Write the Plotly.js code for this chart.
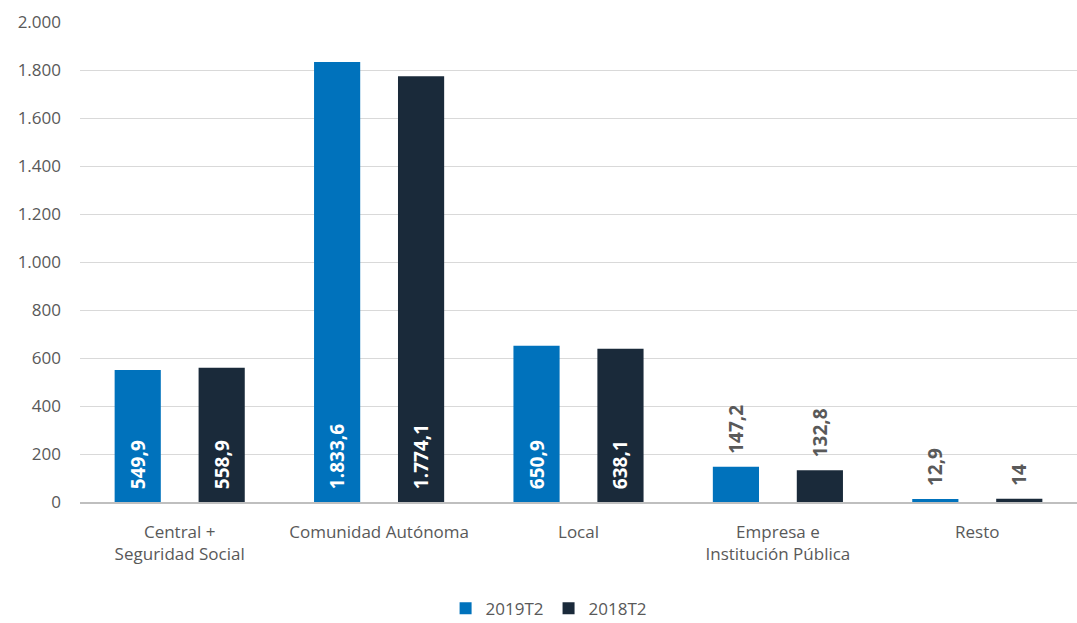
<!DOCTYPE html>
<html>
<head>
<meta charset="utf-8">
<script src="https://cdn.plot.ly/plotly-3.0.1.min.js"></script>
<style>html,body{margin:0;padding:0;background:#fff;}#chart{width:1077px;height:623px;}</style>
</head>
<body>
<div id="chart"></div>
<script>
const categories = ["Central +<br>Seguridad Social", "Comunidad Autónoma", "Local", "Empresa e<br>Institución Pública", "Resto"];
const values2019 = [549.9, 1833.6, 650.9, 147.2, 12.9];
const values2018 = [558.9, 1774.1, 638.1, 132.8, 14];
const seriesNames = ["2019T2", "2018T2"];

function fmt(v) {
  const parts = String(v).split(".");
  const intPart = parts[0].replace(/\B(?=(\d{3})+(?!\d))/g, ".");
  return "\u00a0\u00a0" + (parts.length > 1 ? intPart + "," + parts[1] : intPart);
}
function positions(vals) { return vals.map(v => v > 300 ? "inside" : "outside"); }

const labelFont = {family: "Open Sans", size: 19, weight: 700};

const traces = [
  {type: "bar", name: seriesNames[0], x: categories, y: values2019,
   marker: {color: "#0072BC"},
   text: values2019.map(fmt), textposition: positions(values2019), textangle: -90,
   insidetextanchor: "start", constraintext: "none",
   insidetextfont: Object.assign({color: "#ffffff"}, labelFont),
   outsidetextfont: Object.assign({color: "#595959"}, labelFont),
   cliponaxis: false, hoverinfo: "none"},
  {type: "bar", name: seriesNames[1], x: categories, y: values2018,
   marker: {color: "#1A2A3A"},
   text: values2018.map(fmt), textposition: positions(values2018), textangle: -90,
   insidetextanchor: "start", constraintext: "none",
   insidetextfont: Object.assign({color: "#ffffff"}, labelFont),
   outsidetextfont: Object.assign({color: "#595959"}, labelFont),
   cliponaxis: false, hoverinfo: "none"}
];

const layout = {
  width: 1077, height: 623,
  margin: {l: 80, r: 0, t: 22, b: 121, autoexpand: false},
  paper_bgcolor: "#ffffff", plot_bgcolor: "#ffffff",
  font: {family: "Open Sans", size: 17, color: "#595959"},
  separators: ",.",
  barmode: "group",
  bargap: 0.158, bargroupgap: 0.45,
  showlegend: true,
  legend: {orientation: "h", x: 0.47, xanchor: "center", y: -0.185, yanchor: "top",
           font: {size: 17, color: "#595959"}, itemwidth: 30, traceorder: "normal"},
  xaxis: {type: "category", showgrid: false, ticks: "", ticklabelstandoff: 14,
          showline: true, linecolor: "#bfbfbf", linewidth: 1.5, automargin: false,
          tickfont: {size: 17, color: "#595959"}},
  yaxis: {range: [0, 2000], dtick: 200, tickformat: ",d", showgrid: true,
          gridcolor: "#d9d9d9", gridwidth: 1, zeroline: false, ticks: "",
          ticklabelstandoff: 18, showline: false, automargin: false,
          tickfont: {size: 17, color: "#595959"}}
};

Plotly.newPlot("chart", traces, layout, {displayModeBar: false, staticPlot: true});
</script>
</body>
</html>
